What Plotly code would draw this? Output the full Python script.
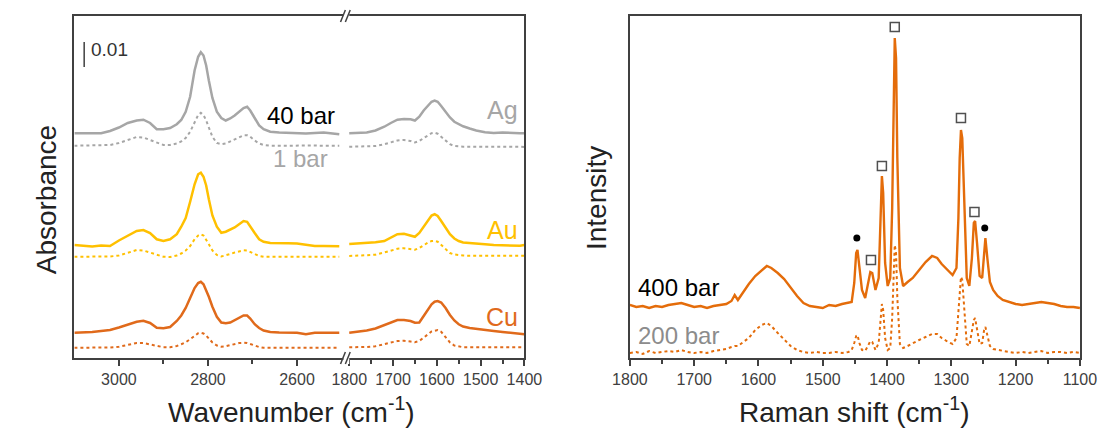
import plotly.graph_objects as go

W, H = 1117, 429
OFF = 8  # page body margin compensation

# ---------------- IR data (left panel) ----------------
WN_HI = [3100, 3080, 3060, 3040, 3020, 3000, 2980, 2960, 2945, 2930, 2915, 2900, 2885, 2870,
         2860, 2850, 2840, 2830, 2822, 2816, 2810, 2804, 2798, 2790, 2780, 2770, 2760, 2750,
         2740, 2730, 2720, 2712, 2705, 2695, 2685, 2675, 2660, 2640, 2620, 2600, 2580, 2560,
         2540, 2520, 2505]
AG_40_HI = [0.0899, 0.0899, 0.0897, 0.0899, 0.0908, 0.0922, 0.0940, 0.0950, 0.0953, 0.0940, 0.0915,
            0.0915, 0.0920, 0.0935, 0.0952, 0.0985, 0.1045, 0.1150, 0.1205, 0.1223, 0.1210, 0.1170,
            0.1110, 0.1040, 0.0985, 0.0960, 0.0950, 0.0958, 0.0970, 0.0985, 0.1000, 0.1005, 0.0990,
            0.0960, 0.0930, 0.0915, 0.0905, 0.0902, 0.0900, 0.0899, 0.0898, 0.0900, 0.0902, 0.0898,
            0.0895]
AG_1_HI = [0.0849, 0.0849, 0.0850, 0.0849, 0.0852, 0.0860, 0.0872, 0.0884, 0.0882, 0.0872, 0.0860,
           0.0852, 0.0852, 0.0858, 0.0866, 0.0880, 0.0905, 0.0945, 0.0972, 0.0981, 0.0972, 0.0950,
           0.0920, 0.0885, 0.0860, 0.0855, 0.0858, 0.0866, 0.0875, 0.0885, 0.0891, 0.0891, 0.0885,
           0.0870, 0.0858, 0.0852, 0.0849, 0.0849, 0.0850, 0.0849, 0.0849, 0.0850, 0.0849, 0.0849,
           0.0849]
AU_40_HI = [0.0452, 0.0450, 0.0446, 0.0450, 0.0448, 0.0470, 0.0490, 0.0508, 0.0512, 0.0500, 0.0475,
            0.0468, 0.0475, 0.0495, 0.0525, 0.0560, 0.0625, 0.0695, 0.0735, 0.0741, 0.0725, 0.0690,
            0.0635, 0.0570, 0.0525, 0.0501, 0.0505, 0.0512, 0.0522, 0.0535, 0.0548, 0.0545, 0.0525,
            0.0500, 0.0475, 0.0465, 0.0460, 0.0458, 0.0459, 0.0458, 0.0452, 0.0448, 0.0448, 0.0447,
            0.0447]
AU_1_HI = [0.0405, 0.0405, 0.0404, 0.0405, 0.0406, 0.0410, 0.0420, 0.0432, 0.0430, 0.0422, 0.0412,
           0.0405, 0.0404, 0.0410, 0.0418, 0.0430, 0.0448, 0.0475, 0.0490, 0.0495, 0.0490, 0.0475,
           0.0455, 0.0430, 0.0412, 0.0406, 0.0410, 0.0416, 0.0422, 0.0428, 0.0431, 0.0430, 0.0425,
           0.0415, 0.0408, 0.0405, 0.0405, 0.0404, 0.0405, 0.0405, 0.0404, 0.0405, 0.0405, 0.0404,
           0.0405]
CU_40_HI = [0.0101, 0.0101, 0.0104, 0.0108, 0.0112, 0.0122, 0.0135, 0.0145, 0.0149, 0.0140, 0.0121,
            0.0119, 0.0124, 0.0148, 0.0170, 0.0200, 0.0240, 0.0280, 0.0300, 0.0305, 0.0295, 0.0272,
            0.0245, 0.0205, 0.0165, 0.0142, 0.0139, 0.0142, 0.0152, 0.0162, 0.0170, 0.0170, 0.0158,
            0.0135, 0.0120, 0.0110, 0.0104, 0.0102, 0.0101, 0.0101, 0.0095, 0.0101, 0.0101, 0.0101,
            0.0101]
CU_1_HI = [0.0041, 0.0041, 0.0042, 0.0041, 0.0042, 0.0045, 0.0052, 0.0060, 0.0060, 0.0055, 0.0047,
           0.0043, 0.0043, 0.0048, 0.0055, 0.0063, 0.0075, 0.0090, 0.0099, 0.0101, 0.0098, 0.0090,
           0.0078, 0.0062, 0.0050, 0.0045, 0.0047, 0.0052, 0.0057, 0.0060, 0.0061, 0.0060, 0.0056,
           0.0049, 0.0044, 0.0041, 0.0041, 0.0042, 0.0041, 0.0041, 0.0042, 0.0041, 0.0041, 0.0042,
           0.0041]

WN_LO = [1800, 1780, 1760, 1740, 1720, 1705, 1690, 1675, 1660, 1650, 1640, 1630, 1620, 1612, 1605,
         1598, 1590, 1580, 1570, 1560, 1550, 1540, 1525, 1510, 1490, 1470, 1450, 1430, 1410, 1400]
AG_40_LO = [0.0899, 0.0900, 0.0902, 0.0910, 0.0925, 0.0940, 0.0953, 0.0956, 0.0955, 0.0950, 0.0965,
            0.0990, 0.1012, 0.1025, 0.1030, 0.1025, 0.1008, 0.0985, 0.0962, 0.0945, 0.0935, 0.0927,
            0.0918, 0.0910, 0.0903, 0.0900, 0.0902, 0.0899, 0.0899, 0.0899]
AG_1_LO = [0.0845, 0.0845, 0.0846, 0.0848, 0.0855, 0.0863, 0.0870, 0.0872, 0.0868, 0.0862, 0.0868,
           0.0880, 0.0892, 0.0899, 0.0901, 0.0897, 0.0885, 0.0868, 0.0855, 0.0848, 0.0846, 0.0845,
           0.0845, 0.0846, 0.0845, 0.0845, 0.0846, 0.0845, 0.0845, 0.0844]
AU_40_LO = [0.0456, 0.0458, 0.0462, 0.0463, 0.0468, 0.0482, 0.0495, 0.0497, 0.0490, 0.0485, 0.0500,
            0.0525, 0.0555, 0.0570, 0.0575, 0.0568, 0.0548, 0.0520, 0.0495, 0.0478, 0.0468, 0.0462,
            0.0459, 0.0458, 0.0455, 0.0452, 0.0450, 0.0449, 0.0449, 0.0452]
AU_1_LO = [0.0408, 0.0409, 0.0410, 0.0413, 0.0422, 0.0430, 0.0437, 0.0439, 0.0436, 0.0433, 0.0440,
           0.0452, 0.0462, 0.0468, 0.0469, 0.0465, 0.0452, 0.0435, 0.0420, 0.0414, 0.0411, 0.0410,
           0.0409, 0.0409, 0.0410, 0.0409, 0.0409, 0.0408, 0.0409, 0.0409]
CU_40_LO = [0.0101, 0.0105, 0.0110, 0.0118, 0.0132, 0.0143, 0.0152, 0.0152, 0.0148, 0.0141, 0.0142,
            0.0168, 0.0195, 0.0215, 0.0225, 0.0228, 0.0222, 0.0200, 0.0172, 0.0150, 0.0135, 0.0126,
            0.0120, 0.0116, 0.0112, 0.0108, 0.0104, 0.0100, 0.0096, 0.0095]
CU_1_LO = [0.0043, 0.0043, 0.0044, 0.0047, 0.0054, 0.0062, 0.0068, 0.0069, 0.0066, 0.0063, 0.0068,
           0.0080, 0.0095, 0.0106, 0.0110, 0.0112, 0.0105, 0.0085, 0.0062, 0.0050, 0.0045, 0.0043,
           0.0043, 0.0044, 0.0043, 0.0043, 0.0044, 0.0043, 0.0043, 0.0043]

# ---------------- Raman data (right panel) ----------------
RS = [1800, 1790, 1780, 1770, 1760, 1750, 1740, 1730, 1720, 1710, 1700, 1690, 1680, 1670, 1660,
      1650, 1642, 1637, 1632, 1625, 1615, 1605, 1595, 1587, 1580, 1570, 1560, 1550, 1540, 1530,
      1520, 1510, 1500, 1490, 1480, 1470, 1460, 1455, 1451, 1448, 1446, 1443, 1439, 1434, 1429,
      1426, 1423, 1418, 1413, 1410, 1408, 1406, 1403, 1399, 1395, 1392, 1390, 1388, 1386, 1384,
      1380, 1375, 1368, 1360, 1350, 1340, 1330, 1322, 1315, 1305, 1298, 1292, 1289, 1287, 1285,
      1283, 1280, 1276, 1272, 1268, 1265, 1263, 1260, 1256, 1252, 1249, 1247, 1244, 1240, 1235,
      1228, 1220, 1210, 1200, 1190, 1180, 1170, 1160, 1150, 1140, 1130, 1120, 1110, 1100]
I_400 = [53, 51, 52, 50, 52, 51, 53, 54, 55, 53, 51, 52, 50, 52, 53,
         54, 57, 63, 58, 65, 74, 82, 88, 92, 90, 85, 79, 70, 62, 55,
         52, 51, 50, 53, 52, 54, 55, 56, 75, 105, 108, 90, 68, 60, 75,
         86, 85, 68, 80, 150, 182, 165, 95, 72, 80, 150, 260, 320, 300, 200,
         90, 72, 76, 80, 88, 96, 102, 100, 94, 87, 83, 90, 140, 200, 228,
         220, 160, 80, 72, 100, 135, 137, 115, 82, 80, 110, 120, 100, 76, 68,
         62, 58, 56, 54, 53, 54, 55, 56, 55, 54, 52, 51, 51, 50]
I_200 = [5, 6, 4, 7, 5, 6, 7, 6, 8, 6, 5, 6, 5, 7, 8,
         9, 11, 12, 12, 15, 20, 28, 33, 35, 32, 25, 18, 12, 8, 6,
         5, 6, 5, 5, 6, 5, 6, 8, 15, 22, 23, 15, 8, 7, 13,
         17, 16, 8, 15, 40, 54, 48, 20, 8, 10, 40, 90, 113, 105, 60,
         14, 10, 12, 15, 18, 21, 24, 24, 20, 16, 14, 20, 45, 70, 81,
         78, 50, 14, 12, 25, 38, 40, 30, 14, 15, 28, 31, 24, 12, 9,
         8, 7, 6, 5, 6, 5, 6, 7, 5, 6, 6, 5, 6, 5]

SQ_X = [1425, 1408, 1388, 1285, 1264]
SQ_Y = [98, 192, 331, 240, 146]
DOT_X = [1447, 1248]
DOT_Y = [120, 130]

# ---------------- styling ----------------
C_AG = "#A6A6A6"
C_AU = "#FFC000"
C_CU = "#E06A1B"
C_AX = "#404040"
FONT = "Liberation Sans, Arial, sans-serif"


def px(x):
    return (x - OFF) / W


def py(y):
    return 1 - (y - OFF) / H


fig = go.Figure()

pairs = [(AG_40_HI, AG_1_HI, AG_40_LO, AG_1_LO, C_AG),
         (AU_40_HI, AU_1_HI, AU_40_LO, AU_1_LO, C_AU),
         (CU_40_HI, CU_1_HI, CU_40_LO, CU_1_LO, C_CU)]
for s_hi, d_hi, s_lo, d_lo, col in pairs:
    fig.add_trace(go.Scatter(x=WN_HI, y=s_hi, xaxis="x", yaxis="y", mode="lines",
                             line=dict(color=col, width=2.5)))
    fig.add_trace(go.Scatter(x=WN_HI, y=d_hi, xaxis="x", yaxis="y", mode="lines",
                             line=dict(color=col, width=2, dash="dot")))
    fig.add_trace(go.Scatter(x=WN_LO, y=s_lo, xaxis="x2", yaxis="y2", mode="lines",
                             line=dict(color=col, width=2.5)))
    fig.add_trace(go.Scatter(x=WN_LO, y=d_lo, xaxis="x2", yaxis="y2", mode="lines",
                             line=dict(color=col, width=2, dash="dot")))

fig.add_trace(go.Scatter(x=RS, y=I_400, xaxis="x3", yaxis="y3", mode="lines",
                         line=dict(color="#E46C0A", width=2.4)))
fig.add_trace(go.Scatter(x=RS, y=I_200, xaxis="x3", yaxis="y3", mode="lines",
                         line=dict(color="#E46C0A", width=2, dash="dot")))
fig.add_trace(go.Scatter(x=SQ_X, y=SQ_Y, xaxis="x3", yaxis="y3", mode="markers",
                         marker=dict(symbol="square-open", size=9, color="#505050",
                                     line=dict(width=1.5, color="#505050"))))
fig.add_trace(go.Scatter(x=DOT_X, y=DOT_Y, xaxis="x3", yaxis="y3", mode="markers",
                         marker=dict(symbol="circle", size=7, color="black")))

ydom = [py(358), py(16)]
axline = dict(showline=True, linecolor=C_AX, linewidth=1.5, showgrid=False, zeroline=False)
xtick = dict(ticks="outside", ticklen=6, tickwidth=1.5, tickcolor=C_AX,
             tickfont=dict(family=FONT, size=16, color=C_AX))

fig.update_layout(
    width=W, height=H, margin=dict(l=0, r=0, t=0, b=0),
    paper_bgcolor="white", plot_bgcolor="white", showlegend=False,
    xaxis=dict(domain=[px(58), px(337)], range=[3100, 2493.5], anchor="y", mirror=True,
               tickvals=[3000, 2800, 2600],
               minor=dict(tickvals=[2900, 2700], ticks="outside", ticklen=4, tickcolor=C_AX,
                          tickwidth=1.5, showgrid=False),
               **axline, **xtick),
    xaxis2=dict(domain=[px(340), px(523)], range=[1804.4, 1400], anchor="y2", mirror=True,
                tickvals=[1800, 1700, 1600, 1500, 1400],
                minor=dict(tickvals=[1750, 1650, 1550, 1450], ticks="outside", ticklen=4,
                           tickcolor=C_AX, tickwidth=1.5, showgrid=False),
                **axline, **xtick),
    xaxis3=dict(domain=[px(632), px(1097)], range=[1800, 1100], anchor="y3", mirror=True,
                tickvals=[1800, 1700, 1600, 1500, 1400, 1300, 1200, 1100],
                minor=dict(tickvals=[1750, 1650, 1550, 1450, 1350, 1250, 1150], ticks="outside",
                           ticklen=4, tickcolor=C_AX, tickwidth=1.5, showgrid=False),
                **axline, **xtick),
    yaxis=dict(domain=ydom, range=[0, 0.1368], anchor="x", showticklabels=False, ticks="",
               **axline),
    yaxis2=dict(domain=ydom, range=[0, 0.1368], anchor="x2", side="right",
                showticklabels=False, ticks="", **axline),
    yaxis3=dict(domain=ydom, range=[0, 342], anchor="x3", mirror=True,
                showticklabels=False, ticks="", **axline),
)

# axis break marks (top and bottom of left panel)
for ytop, ybot in [(22, 10), (364, 352)]:
    fig.add_shape(type="rect", xref="paper", yref="paper", x0=px(336), x1=px(342),
                  y0=py(ytop), y1=py(ybot), fillcolor="white", line=dict(width=0), layer="above")
    for dx in (0, 5):
        fig.add_shape(type="line", xref="paper", yref="paper",
                      x0=px(333 + dx), y0=py(ytop), x1=px(338 + dx), y1=py(ybot),
                      line=dict(color=C_AX, width=1.5), layer="above")

# scale bar 0.01
fig.add_shape(type="line", xref="x", yref="y", x0=3078, x1=3078, y0=0.1164, y1=0.1264,
              line=dict(color=C_AX, width=1.5))
fig.add_annotation(x=3068, y=0.1234, xref="x", yref="y", text="0.01", showarrow=False,
                   xanchor="left", yanchor="middle", font=dict(family=FONT, size=19, color="#333333"))

txt = dict(showarrow=False, yanchor="middle")
fig.add_annotation(x=2509, y=0.0972, xref="x", yref="y", text="40 bar", xanchor="right",
                   font=dict(family=FONT, size=24, color="black"), **txt)
fig.add_annotation(x=2526, y=0.0800, xref="x", yref="y", text="1 bar", xanchor="right",
                   font=dict(family=FONT, size=24, color=C_AG), **txt)
for lab, yy, col in [("Ag", 0.0992, C_AG), ("Au", 0.0512, C_AU), ("Cu", 0.0165, C_CU)]:
    fig.add_annotation(x=1411, y=yy, xref="x2", yref="y2", text=lab, xanchor="right",
                       font=dict(family=FONT, size=25, color=col), **txt)

fig.add_annotation(x=1790, y=71, xref="x3", yref="y3", text="400 bar", xanchor="left",
                   font=dict(family=FONT, size=24, color="black"), **txt)
fig.add_annotation(x=1790, y=23, xref="x3", yref="y3", text="200 bar", xanchor="left",
                   font=dict(family=FONT, size=24, color="#8C8C8C"), **txt)

# axis titles
tfont = dict(family=FONT, size=28, color="#222222")
ctr = dict(xref="paper", yref="paper", showarrow=False, xanchor="center", yanchor="middle",
           font=tfont)
fig.add_annotation(x=px(30), y=py(200), text="Absorbance", textangle=-90, **ctr)
fig.add_annotation(x=px(597), y=py(198), text="Intensity", textangle=-90, **ctr)
fig.add_annotation(x=px(282), y=py(410), text="Wavenumber (cm<sup>-1</sup>)", **ctr)
fig.add_annotation(x=px(864), y=py(410), text="Raman shift (cm<sup>-1</sup>)", **ctr)

fig.write_html("out.html")
